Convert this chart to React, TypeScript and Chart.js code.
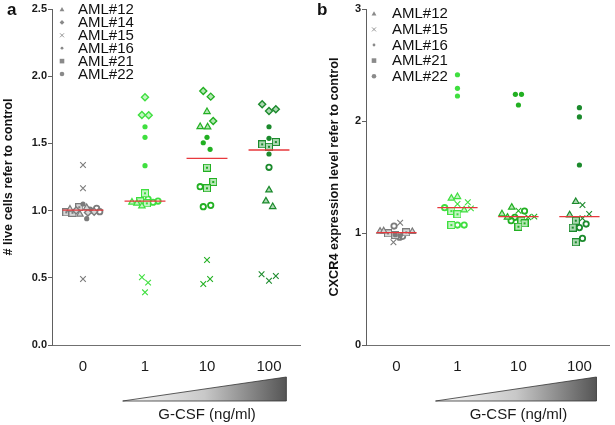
import React, { useEffect, useRef } from 'react';
import { Chart, registerables } from 'chart.js';

Chart.register(...registerables);

const FONT = 'Arial, "Liberation Sans", Helvetica, sans-serif';

// ---------- shared data ----------
const doses = ['0', '1', '10', '100'];
const groupColors = ['#7b7b7b', '#3fdf3f', '#22b022', '#1b8a2c'];
const groupFills = ['#d6d6d6', '#c4f4c4', '#b4e6b4', '#acd8b2'];

// ---------- panel a: # live cells refer to control ----------
const liveTitle = '# live cells refer to control';
const liveNames = ['AML#12', 'AML#14', 'AML#15', 'AML#16', 'AML#21', 'AML#22'];
const liveAML12 = [[1.01, 0.972, 1.022], [1.062, 1.054, 1.034], [1.736, 1.624, 1.622], [1.153, 1.071, 1.029]];
const liveAML12Jit = [[-0.21, -0.05, 0.06], [-0.21, -0.13, -0.05], [0.0, -0.11, 0.01], [0.0, -0.05, 0.06]];
const liveAML14 = [[0.992, 0.985, 1.0], [1.843, 1.711, 1.709], [1.89, 1.848, 1.667], [1.791, 1.741, 1.754]];
const liveAML14Jit = [[0.18, 0.08, -0.11], [0.0, -0.05, 0.06], [-0.06, 0.06, 0.1], [-0.11, 0.0, 0.11]];
const liveAML15 = [[1.339, 1.166, 0.491], [0.504, 0.464, 0.392], [0.632, 0.454, 0.491], [0.526, 0.478, 0.513]];
const liveAML15Jit = [[0.0, 0.0, 0.0], [-0.05, 0.05, 0.0], [0.0, -0.06, 0.05], [-0.12, 0.0, 0.11]];
const liveAML16 = [[1.049, 0.94, 1.0], [1.624, 1.545, 1.334], [1.545, 1.505, 1.456], [1.624, 1.538, 1.421]];
const liveAML16Jit = [[0.0, 0.06, 0.13], [0.0, 0.0, 0.0], [0.0, -0.06, 0.05], [0.0, 0.0, 0.0]];
const liveAML21 = [[0.987, 0.984, 1.025], [1.129, 1.069, 1.054], [1.319, 1.213, 1.166], [1.493, 1.51, 1.475]];
const liveAML21Jit = [[-0.27, -0.17, -0.06], [0.0, -0.08, 0.03], [0.0, 0.1, 0.0], [-0.11, 0.11, 0.0]];
const liveAML22 = [[1.004, 1.017, 0.992], [1.086, 1.071, 1.062], [1.178, 1.029, 1.039], [1.322]];
const liveAML22Jit = [[0.11, 0.22, 0.27], [0.05, 0.21, 0.13], [-0.11, -0.06, 0.06], [0.0]];
const liveMedians = [1.004, 1.071, 1.389, 1.451];

// ---------- panel b: CXCR4 expression level refer to control ----------
const cxcrTitle = 'CXCR4 expression level refer to control';
const cxcrNames = ['AML#12', 'AML#15', 'AML#16', 'AML#21', 'AML#22'];
const cxcrAML12 = [[1.015, 1.018, 1.012], [1.31, 1.324, 1.205], [1.17, 1.229, 1.14], [1.28, 1.161]];
const cxcrAML12Jit = [[-0.27, -0.21, 0.26], [-0.1, 0.0, 0.11], [-0.27, -0.11, -0.18], [-0.06, -0.16]];
const cxcrAML15 = [[1.092, 0.917], [1.259, 1.274, 1.22], [1.199, 1.14, 1.146], [1.25, 1.17, 1.131]];
const cxcrAML15Jit = [[0.06, -0.05], [0.0, 0.17, 0.22], [0.0, 0.16, 0.26], [0.05, 0.16, 0.05]];
const cxcrAML16 = [[0.985, 0.975], [2.413, 2.292, 2.223], [2.238, 2.238, 2.143], [2.119, 2.036, 1.607]];
const cxcrAML16Jit = [[-0.02, 0.06], [0.0, 0.0, 0.0], [-0.05, 0.05, 0.0], [0.0, 0.0, 0.0]];
const cxcrAML21 = [[0.997, 0.982, 1.006], [1.196, 1.167, 1.071], [1.11, 1.086, 1.056], [1.11, 1.048, 0.917]];
const cxcrAML21Jit = [[-0.14, -0.02, 0.16], [-0.1, 0.0, -0.1], [0.05, 0.1, 0.0], [-0.06, -0.11, -0.06]];
const cxcrAML22 = [[1.062, 0.962, 0.97], [1.226, 1.071, 1.071], [1.196, 1.14, 1.11], [1.048, 1.08, 0.952]];
const cxcrAML22Jit = [[-0.04, 0.05, 0.1], [-0.21, 0.0, 0.11], [0.1, -0.06, -0.12], [0.0, 0.11, 0.05]];
const cxcrMedians = [1.003, 1.226, 1.146, 1.146];

// ---------- helpers ----------
let squareImgs = null;
function getSquares() {
  if (squareImgs) return squareImgs;
  squareImgs = groupColors.map((c, g) => {
    const cv = document.createElement('canvas');
    cv.width = 8;
    cv.height = 8;
    const cx = cv.getContext('2d');
    cx.fillStyle = groupFills[g];
    cx.fillRect(0.5, 0.5, 7, 7);
    cx.strokeStyle = c;
    cx.lineWidth = 1;
    cx.strokeRect(0.5, 0.5, 7, 7);
    cx.fillStyle = c;
    cx.fillRect(3, 3, 2, 2);
    return cv;
  });
  return squareImgs;
}

function toPoints(values, jitter) {
  const pts = [];
  values.forEach((arr, g) => arr.forEach((v, i) => pts.push({ x: g + jitter[g][i], y: v, g })));
  return pts;
}

const colorOf = (c) => groupColors[(c.raw && c.raw.g) || 0];
const fillOf = (c) => groupFills[(c.raw && c.raw.g) || 0];

function seriesDataset(label, values, jitter, kind) {
  const base = { label, data: toPoints(values, jitter), showLine: false, order: 1, pointHoverRadius: 0 };
  if (kind === 'tri')
    return { ...base, pointStyle: 'triangle', pointRadius: 3.7, pointBorderWidth: 1.2, pointBorderColor: colorOf, pointBackgroundColor: fillOf };
  if (kind === 'dia')
    return { ...base, pointStyle: 'rectRot', pointRadius: 3.5, pointBorderWidth: 1.4, pointBorderColor: colorOf, pointBackgroundColor: fillOf };
  if (kind === 'cross')
    return { ...base, pointStyle: 'crossRot', pointRadius: 4, pointBorderWidth: 1.1, pointBorderColor: colorOf, pointBackgroundColor: colorOf };
  if (kind === 'dot')
    return { ...base, pointStyle: 'circle', pointRadius: 2.6, pointBorderWidth: 0, pointBorderColor: colorOf, pointBackgroundColor: colorOf };
  if (kind === 'sq')
    return { ...base, pointStyle: (c) => getSquares()[(c.raw && c.raw.g) || 0], pointRadius: 4 };
  return { ...base, pointStyle: 'circle', pointRadius: 2.7, pointBorderWidth: 1.8, pointBorderColor: colorOf, pointBackgroundColor: '#ffffff' };
}

function medianDataset(medians) {
  const data = [];
  medians.forEach((m, g) => {
    data.push({ x: g - 0.33, y: m });
    data.push({ x: g + 0.33, y: m });
    data.push({ x: g + 0.5, y: null });
  });
  return { type: 'line', label: 'median', data, borderColor: '#e8383d', borderWidth: 1.3, pointRadius: 0, spanGaps: false, order: 0 };
}

function drawLegendMarker(ctx, kind, x, y) {
  ctx.save();
  ctx.fillStyle = '#8a8a8a';
  ctx.strokeStyle = '#8a8a8a';
  ctx.beginPath();
  if (kind === 'tri') {
    ctx.moveTo(x, y - 2.5);
    ctx.lineTo(x + 2.4, y + 1.8);
    ctx.lineTo(x - 2.4, y + 1.8);
    ctx.closePath();
    ctx.fill();
  } else if (kind === 'dia') {
    ctx.moveTo(x, y - 2.4);
    ctx.lineTo(x + 2.4, y);
    ctx.lineTo(x, y + 2.4);
    ctx.lineTo(x - 2.4, y);
    ctx.closePath();
    ctx.fill();
  } else if (kind === 'cross') {
    ctx.lineWidth = 0.9;
    ctx.moveTo(x - 2, y - 2);
    ctx.lineTo(x + 2, y + 2);
    ctx.moveTo(x + 2, y - 2);
    ctx.lineTo(x - 2, y + 2);
    ctx.stroke();
  } else if (kind === 'dot') {
    ctx.arc(x, y, 1.4, 0, Math.PI * 2);
    ctx.fill();
  } else if (kind === 'sq') {
    ctx.fillRect(x - 2.3, y - 2.3, 4.6, 4.6);
  } else {
    ctx.arc(x, y, 2.3, 0, Math.PI * 2);
    ctx.fill();
  }
  ctx.restore();
}

function decorPlugin(spec) {
  return {
    id: 'decor' + spec.key,
    afterDraw(chart) {
      const ctx = chart.ctx;
      const xs = chart.scales.x;
      const area = chart.chartArea;
      // dose ramp triangle
      const xl = xs.getPixelForValue(0.64);
      const xr = xs.getPixelForValue(3.28);
      ctx.save();
      const grad = ctx.createLinearGradient(xl, 0, xr, 0);
      grad.addColorStop(0, '#fafafa');
      grad.addColorStop(0.5, '#c8c8c8');
      grad.addColorStop(1, '#555555');
      ctx.beginPath();
      ctx.moveTo(xl, 401);
      ctx.lineTo(xr, 377);
      ctx.lineTo(xr, 401);
      ctx.closePath();
      ctx.fillStyle = grad;
      ctx.fill();
      ctx.strokeStyle = '#333';
      ctx.lineWidth = 0.8;
      ctx.stroke();
      // dose axis title
      ctx.fillStyle = '#1a1a1a';
      ctx.font = '15px ' + FONT;
      ctx.textAlign = 'center';
      ctx.textBaseline = 'middle';
      ctx.fillText('G-CSF (ng/ml)', xs.getPixelForValue(2), 415);
      // legend
      ctx.textAlign = 'left';
      spec.names.forEach((name, i) => {
        const y = spec.legendY0 + i * spec.legendStep;
        drawLegendMarker(ctx, spec.kinds[i], area.left + spec.legendMarkX, y);
        ctx.fillStyle = '#111';
        ctx.font = '15px ' + FONT;
        ctx.fillText(name, area.left + spec.legendTextX, y + 0.5);
      });
      ctx.restore();
    },
  };
}

function buildConfig(spec) {
  const datasets = spec.series.map((s, i) => seriesDataset(spec.names[i], s[0], s[1], spec.kinds[i]));
  datasets.push(medianDataset(spec.medians));
  return {
    type: 'scatter',
    data: { datasets },
    options: {
      animation: false,
      responsive: false,
      maintainAspectRatio: false,
      events: [],
      layout: { padding: { left: spec.padLeft, right: spec.padRight, top: 9, bottom: 0 } },
      plugins: { legend: { display: false }, tooltip: { enabled: false } },
      scales: {
        x: {
          type: 'linear',
          min: -0.5,
          max: 3.5,
          afterBuildTicks: (s) => {
            s.ticks = doses.map((_, i) => ({ value: i }));
          },
          afterFit: (s) => {
            s.height = 80;
          },
          ticks: {
            autoSkip: false,
            maxRotation: 0,
            padding: 13,
            color: '#1a1a1a',
            font: { family: FONT, size: 15 },
            callback: (v) => doses[v] ?? '',
          },
          grid: { display: true, drawOnChartArea: false, drawTicks: false },
          border: { display: true, color: '#707070', width: 1 },
        },
        y: {
          min: 0,
          max: spec.yMax,
          afterFit: (s) => {
            s.width = spec.yWidth;
          },
          ticks: {
            stepSize: spec.yStep,
            padding: 1,
            color: '#1a1a1a',
            font: { family: FONT, size: 11, weight: 'bold' },
            callback: (v) => spec.tickFmt(v),
          },
          grid: { display: true, drawOnChartArea: false, drawTicks: true, tickLength: 4, color: '#606060' },
          border: { display: true, color: '#606060', width: 1 },
          title: {
            display: true,
            text: spec.title,
            color: '#111',
            padding: 0,
            font: { family: FONT, size: 12.7, weight: 'bold' },
          },
        },
      },
    },
    plugins: [decorPlugin(spec)],
  };
}

const specA = {
  key: 'a',
  title: liveTitle,
  names: liveNames,
  kinds: ['tri', 'dia', 'cross', 'dot', 'sq', 'ring'],
  series: [
    [liveAML12, liveAML12Jit],
    [liveAML14, liveAML14Jit],
    [liveAML15, liveAML15Jit],
    [liveAML16, liveAML16Jit],
    [liveAML21, liveAML21Jit],
    [liveAML22, liveAML22Jit],
  ],
  medians: liveMedians,
  yMax: 2.5,
  yStep: 0.5,
  tickFmt: (v) => Number(v).toFixed(1),
  padLeft: 1,
  padRight: 10,
  yWidth: 51,
  legendMarkX: 10,
  legendTextX: 26,
  legendY0: 9.5,
  legendStep: 12.9,
};

const specB = {
  key: 'b',
  title: cxcrTitle,
  names: cxcrNames,
  kinds: ['tri', 'cross', 'dot', 'sq', 'ring'],
  series: [
    [cxcrAML12, cxcrAML12Jit],
    [cxcrAML15, cxcrAML15Jit],
    [cxcrAML16, cxcrAML16Jit],
    [cxcrAML21, cxcrAML21Jit],
    [cxcrAML22, cxcrAML22Jit],
  ],
  medians: cxcrMedians,
  yMax: 3,
  yStep: 1,
  tickFmt: (v) => String(v),
  padLeft: 17,
  padRight: 1,
  yWidth: 39,
  legendMarkX: 8,
  legendTextX: 26,
  legendY0: 13.8,
  legendStep: 15.6,
};

function Panel({ spec, left, width }) {
  const ref = useRef(null);
  useEffect(() => {
    const chart = new Chart(ref.current, buildConfig(spec));
    return () => chart.destroy();
  }, [spec]);
  return (
    <canvas
      ref={ref}
      width={width}
      height={425}
      style={{ position: 'absolute', left, top: 0, width, height: 425 }}
    />
  );
}

export default function App() {
  const labelStyle = {
    position: 'absolute',
    fontFamily: FONT,
    fontWeight: 'bold',
    fontSize: 17,
    lineHeight: '17px',
    color: '#111',
  } as React.CSSProperties;
  return (
    <div style={{ position: 'fixed', left: 0, top: 0, width: 615, height: 425, background: '#fff', overflow: 'hidden' }}>
      <Panel spec={specA} left={0} width={310} />
      <Panel spec={specB} left={310} width={305} />
      <div style={{ ...labelStyle, left: 7, top: 1 }}>a</div>
      <div style={{ ...labelStyle, left: 317, top: 1 }}>b</div>
    </div>
  );
}
